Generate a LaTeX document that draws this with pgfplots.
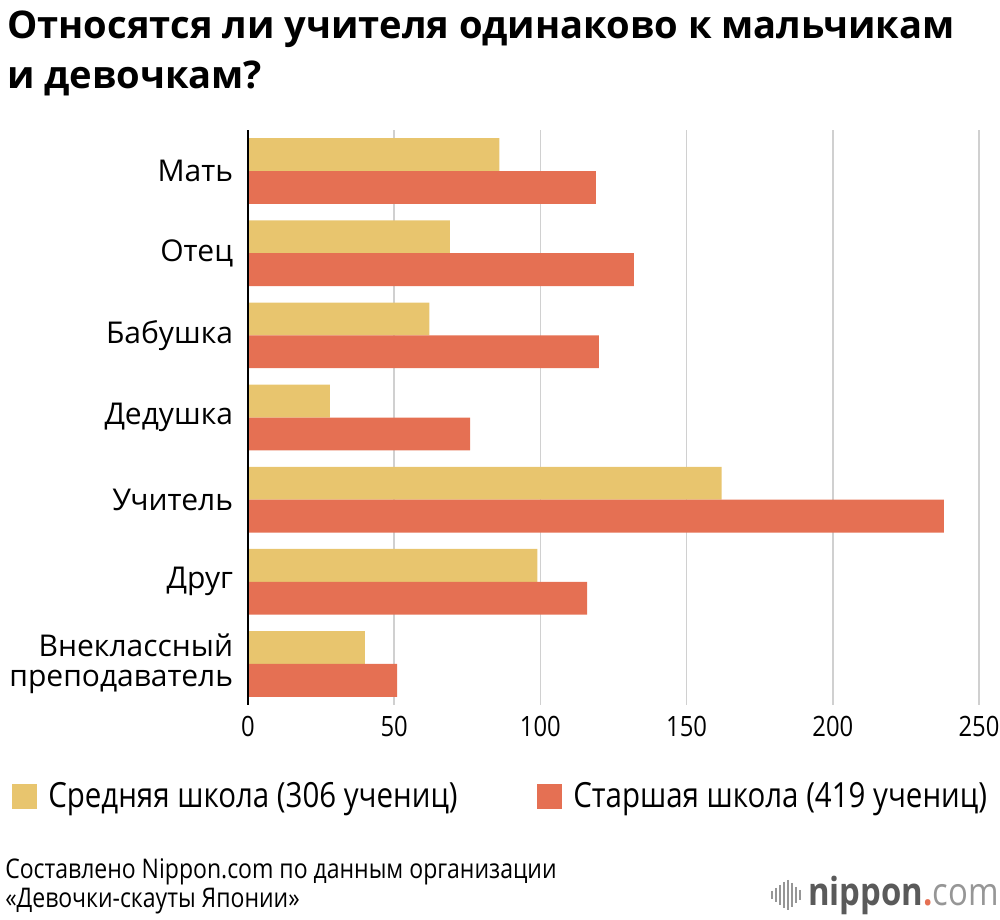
\documentclass[border=0pt]{standalone}
\usepackage{fontspec}
\setmainfont{Open Sans}
\newfontfamily\condfont{Open Sans}[FakeStretch=0.85]
\usepackage{pgfplots}
\pgfplotsset{compat=1.18}
\definecolor{cyel}{RGB}{232,197,110}
\definecolor{cred}{RGB}{229,112,83}
\definecolor{cgrid}{RGB}{208,208,208}
\definecolor{logogray}{RGB}{90,90,90}
\definecolor{logolight}{RGB}{150,150,150}
\begin{document}
\begin{tikzpicture}
\path[use as bounding box] (-186pt,528.75pt) rectangle (564pt,-161.25pt);
\begin{axis}[
  at={(0,0)}, anchor=south west,
  scale only axis, width=548.25pt, height=431.25pt,
  xmin=0, xmax=250, ymin=-0.5, ymax=6.5, y dir=reverse,
  ytick={0,...,6},
  yticklabels={Мать,Отец,Бабушка,Дедушка,Учитель,Друг,{Внеклассный\\преподаватель}},
  yticklabel style={align=right, font=\fontsize{22.5}{23}\selectfont, inner sep=0pt, xshift=-11pt},
  xtick={0,50,...,250},
  xticklabel style={font=\condfont\fontsize{21}{22}\selectfont, inner sep=0pt, yshift=-8pt},
  /pgf/number format/assume math mode=true,
  xmajorgrids, grid style={cgrid, line width=1.1pt},
  major tick length=0pt,
  axis line style={draw=none},
  clip=false,
]
\addplot[xbar, bar width=0.4, bar shift=-0.2, fill=cyel, draw=none]
  coordinates {(86,0) (69,1) (62,2) (28,3) (162,4) (99,5) (40,6)};
\addplot[xbar, bar width=0.4, bar shift=0.2, fill=cred, draw=none]
  coordinates {(119,0) (132,1) (120,2) (76,3) (238,4) (116,5) (51,6)};
\draw[black, line width=1.5pt] (axis cs:0,-0.5) -- (axis cs:0,6.5);
\end{axis}
\begin{scope}[x=0.75pt,y=-0.75pt,shift={(-186pt,528.75pt)}]
  \node[anchor=base west, inner sep=0pt, font=\bfseries\fontsize{28.6}{30}\selectfont] at (7,39) {Относятся ли учителя одинаково к мальчикам};
  \node[anchor=base west, inner sep=0pt, font=\bfseries\fontsize{28.6}{30}\selectfont] at (7,89) {и девочкам?};
  % legend
  \fill[cyel] (12,784) rectangle (37,809);
  \node[anchor=base west, inner sep=0pt, font=\condfont\fontsize{26}{28}\selectfont] at (48,808) {Средняя школа (306 учениц)};
  \fill[cred] (537,784) rectangle (562,809);
  \node[anchor=base west, inner sep=0pt, font=\condfont\fontsize{26}{28}\selectfont] at (573,808) {Старшая школа (419 учениц)};
  % footer
  \node[anchor=base west, inner sep=0pt, font=\condfont\fontsize{20.3}{22}\selectfont] at (5,879) {Составлено Nippon.com по данным организации};
  \node[anchor=base west, inner sep=0pt, font=\condfont\fontsize{20.3}{22}\selectfont] at (5,908) {«Девочки-скауты Японии»};
  % logo
  \foreach \xx/\hh in {772/8,776/14,780/20,784/26,788/30,792/24,796/16,800/10}
    \draw[logolight, line width=1.2pt] (\xx,895-\hh/2) -- (\xx,895+\hh/2);
  \node[anchor=base west, inner sep=0pt, font=\condfont\fontsize{29}{30}\selectfont] at (808,906) {\textcolor{logogray}{\bfseries nippon}\textcolor{cred}{\bfseries .}\textcolor{logolight}{com}};
\end{scope}
\end{tikzpicture}
\end{document}
